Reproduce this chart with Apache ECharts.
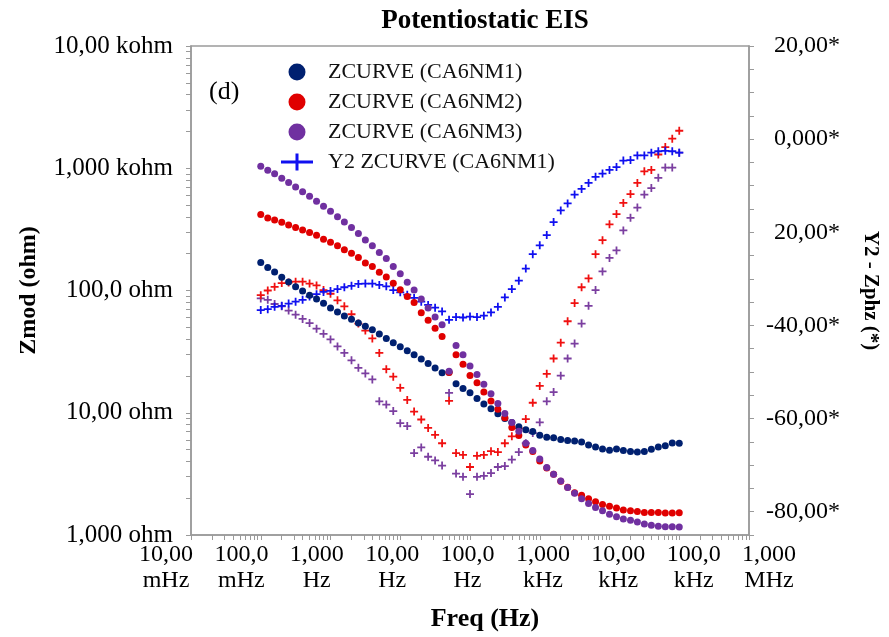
<!DOCTYPE html>
<html>
<head>
<meta charset="utf-8">
<script src="https://cdn.jsdelivr.net/npm/echarts@6/dist/echarts.min.js"></script>
<style>html,body{margin:0;padding:0;background:#fff}#c{width:889px;height:637px}</style>
</head>
<body>
<div id="c"></div>
<script>
// Frequencies (Hz), 10 points per decade, 0.1 Hz .. 100 kHz
const freqHz = [0.1,0.126,0.158,0.2,0.251,0.316,0.398,0.501,0.631,0.794,
  1,1.26,1.58,2,2.51,3.16,3.98,5.01,6.31,7.94,
  10,12.6,15.8,20,25.1,31.6,39.8,50.1,63.1,79.4,
  100,126,158,200,251,316,398,501,631,794,
  1000,1260,1580,2000,2510,3160,3980,5010,6310,7940,
  10000,12600,15800,20000,25100,31600,39800,50100,63100,79400,
  100000];

// |Z| (ohm)
const zmodCA6NM1 = [169.7,154.5,141.5,128.1,117.3,107.4,99.1,91.4,85.3,78.7,
  72.0,66.8,62.0,58.3,54.1,51.1,47.7,44.0,40.5,37.3,
  34.6,32.2,29.8,27.5,25.3,23.2,21.2,21.4,17.3,15.8,
  14.6,13.1,11.8,10.8,9.80,8.98,8.33,7.68,7.26,7.04,
  6.56,6.29,6.25,6.05,5.94,5.87,5.76,5.44,5.24,5.05,
  4.93,5.05,4.90,4.81,4.77,4.81,5.02,5.24,5.38,5.65,
  5.62];
const zmodCA6NM2 = [417.7,391.8,377.4,361.4,343.6,327.3,312.9,298.0,283.2,262.7,
  248.5,232.6,215.0,202.1,186.4,167.5,157.5,140.7,128.8,114.5,
  101.5,89.4,79.8,65.9,57.0,49.0,42.0,21.3,29.8,24.9,
  20.2,17.6,14.8,12.5,10.7,9.10,7.58,6.53,5.44,4.81,
  4.03,3.53,3.14,2.75,2.46,2.22,2.11,1.98,1.87,1.78,
  1.72,1.66,1.60,1.58,1.56,1.53,1.53,1.53,1.51,1.51,
  1.52];
const zmodCA6NM3 = [1039,964,901,830,765,701,643,589,536,488,
  444,402,364,327,292,259,232,205,183,157,
  137,117,101,85.3,72.0,60.8,52.4,21.8,35.5,29.8,
  24.1,20.6,17.1,14.3,11.9,9.86,8.33,7.07,5.62,4.90,
  4.18,3.56,3.14,2.77,2.45,2.20,1.98,1.81,1.68,1.58,
  1.48,1.41,1.35,1.32,1.28,1.23,1.20,1.18,1.17,1.17,
  1.16];

// Phase (degrees)
const zphzCA6NM1 = [-36.7,-36.5,-36.0,-35.8,-35.3,-34.9,-34.5,-33.8,-33.3,-32.8,
  -32.6,-32.2,-31.8,-31.5,-31.1,-31.0,-31.0,-31.3,-31.6,-32.4,
  -32.9,-33.4,-34.1,-34.9,-35.6,-36.2,-37.0,-38.8,-38.2,-38.3,
  -38.1,-38.2,-37.9,-37.2,-36.0,-34.0,-32.2,-30.4,-27.8,-24.7,
  -22.8,-20.6,-17.8,-15.3,-13.8,-11.9,-10.7,-9.4,-8.1,-7.4,
  -6.6,-6.0,-4.6,-4.5,-3.5,-3.5,-2.9,-2.6,-2.5,-2.6,
  -2.9];
const zphzCA6NM2 = [-33.5,-32.5,-31.7,-30.9,-30.8,-30.6,-30.6,-31.0,-31.4,-32.4,
  -33.2,-34.6,-35.9,-37.6,-39.6,-41.1,-42.8,-45.9,-49.4,-51.0,
  -53.4,-56.0,-58.5,-60.2,-62.0,-63.5,-65.3,-56.2,-67.4,-67.8,
  -70.4,-68.0,-67.8,-67.0,-67.2,-65.3,-63.8,-62.1,-60.1,-56.6,
  -53.0,-50.4,-47.1,-43.7,-39.1,-35.2,-31.8,-29.9,-24.7,-21.7,
  -18.3,-16.1,-13.7,-11.8,-9.4,-6.9,-6.6,-3.3,-1.7,0.1,
  1.8];
const zphzCA6NM3 = [-34.2,-34.5,-35.4,-35.9,-36.8,-37.7,-38.6,-39.5,-40.7,-41.8,
  -43.0,-44.5,-45.9,-47.5,-49.1,-50.3,-51.6,-56.3,-57.0,-58.4,
  -61.0,-61.6,-67.4,-66.2,-68.2,-69.0,-70.1,-54.5,-71.8,-72.5,
  -76.2,-72.5,-72.3,-71.7,-70.4,-70.2,-68.8,-67.2,-65.3,-63.1,
  -60.8,-56.3,-54.3,-50.8,-47.1,-43.9,-39.6,-35.8,-32.4,-28.4,
  -25.5,-23.9,-19.6,-16.9,-14.7,-11.9,-10.5,-8.3,-6.1,-6.1,
  -2.9];

// Tick labels
const xTickLabels = ['10,00\nmHz','100,0\nmHz','1,000\nHz','10,00\nHz','100,0\nHz','1,000\nkHz','10,00\nkHz','100,0\nkHz','1,000\nMHz'];
const yLeftLabels = ['1,000 ohm','10,00 ohm','100,0 ohm','1,000 kohm','10,00 kohm'];
const yRightValues = [20, 0, -20, -40, -60, -80];
const yRightLabels = ['20,00*','0,000*','20,00*','-40,00*','-60,00*','-80,00*'];
const xDecades = [0.01,0.1,1,10,100,1000,10000,100000];
const yDecades = [1,10,100,1000];
const minorSteps = [1,2,3,4,5,6,7,8,9];

function logTicks(decades, last) {
  const out = [];
  decades.forEach(d => minorSteps.forEach(s => out.push(d * s)));
  out.push(last);
  return out;
}

const FONT = 'Liberation Serif';
const GRAY = '#9a9a9a';
const pts = arr => freqHz.map((f, i) => [f, arr[i]]);
const PLUS = 'path://M3.5,0h2v9h-2z M0,3.5h9v2h-9z';

const chart = echarts.init(document.getElementById('c'), null, {renderer: 'canvas'});
chart.setOption({
  backgroundColor: '#fff',
  animation: false,
  title: [
    {text: 'Potentiostatic EIS', left: 480, top: 3, textAlign: 'center',
     textStyle: {fontFamily: FONT, fontSize: 27, fontWeight: 'bold', color: '#000'}},
    {text: '(d)', left: 204, top: 74,
     textStyle: {fontFamily: FONT, fontSize: 26, fontWeight: 'normal', color: '#000'}}
  ],
  legend: {
    orient: 'vertical', left: 276, top: 56, itemWidth: 32, itemHeight: 17, itemGap: 8,
    selectedMode: false,
    textStyle: {fontFamily: FONT, fontSize: 22, color: '#111', padding: [0, 0, 0, 10]},
    data: [
      {name: 'ZCURVE (CA6NM1)', icon: 'circle'},
      {name: 'ZCURVE (CA6NM2)', icon: 'circle'},
      {name: 'ZCURVE (CA6NM3)', icon: 'circle'},
      {name: 'Y2 ZCURVE (CA6NM1)', icon: 'path://M0,7h32v3h-32z M14.5,0h3v17h-3z'}
    ]
  },
  grid: [
    {left: 191, right: 139, top: 46, bottom: 100, show: true, borderColor: GRAY, borderWidth: 1.5},
    {left: 166, right: 120, top: 46, bottom: 100, show: false}
  ],
  xAxis: [
    {type: 'log', gridIndex: 0, min: 0.01, max: 1000000, logBase: 10,
     name: 'Freq (Hz)', nameLocation: 'middle', nameGap: 71,
     nameTextStyle: {fontFamily: FONT, fontSize: 26, fontWeight: 'bold', color: '#000', padding: [0, 0, 0, 30]},
     axisLine: {show: true, onZero: false, lineStyle: {color: GRAY, width: 1.5}},
     axisTick: {show: true, inside: false, length: 5, lineStyle: {color: GRAY},
                customValues: logTicks(xDecades, 1000000)},
     axisLabel: {show: false}, splitLine: {show: false}, minorTick: {show: false}},
    {type: 'value', gridIndex: 1, min: 0, max: 8, interval: 1,
     axisLine: {show: false, onZero: false}, axisTick: {show: false}, splitLine: {show: false},
     axisLabel: {show: true, margin: 5, fontFamily: FONT, fontSize: 24, lineHeight: 26, color: '#000',
                 formatter: v => xTickLabels[Math.round(v)] || ''}}
  ],
  yAxis: [
    {type: 'log', gridIndex: 0, min: 1, max: 10000, logBase: 10,
     name: 'Zmod (ohm)', nameLocation: 'middle', nameGap: 150, nameRotate: 90,
     nameTextStyle: {fontFamily: FONT, fontSize: 24, fontWeight: 'bold', color: '#000'},
     axisLine: {show: true, onZero: false, lineStyle: {color: GRAY, width: 1.5}},
     axisTick: {show: true, inside: false, length: 5, lineStyle: {color: GRAY},
                customValues: logTicks(yDecades, 10000)},
     axisLabel: {show: true, margin: 18, fontFamily: FONT, fontSize: 25, color: '#000',
                 customValues: [1, 10, 100, 1000, 10000],
                 formatter: v => yLeftLabels[Math.round(Math.log10(v))]},
     splitLine: {show: false}},
    {type: 'value', gridIndex: 0, position: 'right', min: -85, max: 20, interval: 5,
     name: 'Y2 - Zphz (*)', nameLocation: 'middle', nameGap: 111, nameRotate: -90,
     nameTextStyle: {fontFamily: FONT, fontSize: 21, fontWeight: 'bold', color: '#000'},
     axisLine: {show: true, onZero: false, lineStyle: {color: GRAY, width: 1.5}},
     axisTick: {show: true, inside: false, length: 5, lineStyle: {color: GRAY}},
     axisLabel: {show: true, margin: 91, align: 'right', fontFamily: FONT, fontSize: 24, color: '#000',
                 formatter: v => { const k = yRightValues.indexOf(Math.round(v)); return k >= 0 ? yRightLabels[k] : ''; }},
     splitLine: {show: false}},
    {type: 'value', gridIndex: 1, min: 0, max: 1, show: false}
  ],
  series: [
    {name: 'Y2 ZCURVE (CA6NM3)', type: 'scatter', xAxisIndex: 0, yAxisIndex: 1, symbol: PLUS, symbolSize: 8,
     itemStyle: {color: '#7b3fa0', opacity: 1}, data: pts(zphzCA6NM3)},
    {name: 'Y2 ZCURVE (CA6NM2)', type: 'scatter', xAxisIndex: 0, yAxisIndex: 1, symbol: PLUS, symbolSize: 8,
     itemStyle: {color: '#f01010', opacity: 1}, data: pts(zphzCA6NM2)},
    {name: 'Y2 ZCURVE (CA6NM1)', type: 'scatter', xAxisIndex: 0, yAxisIndex: 1, symbol: PLUS, symbolSize: 8,
     itemStyle: {color: '#1010f0', opacity: 1}, data: pts(zphzCA6NM1)},
    {name: 'ZCURVE (CA6NM1)', type: 'scatter', xAxisIndex: 0, yAxisIndex: 0, symbol: 'circle', symbolSize: 7,
     itemStyle: {color: '#002070', opacity: 1}, data: pts(zmodCA6NM1)},
    {name: 'ZCURVE (CA6NM2)', type: 'scatter', xAxisIndex: 0, yAxisIndex: 0, symbol: 'circle', symbolSize: 7,
     itemStyle: {color: '#e00000', opacity: 1}, data: pts(zmodCA6NM2)},
    {name: 'ZCURVE (CA6NM3)', type: 'scatter', xAxisIndex: 0, yAxisIndex: 0, symbol: 'circle', symbolSize: 7,
     itemStyle: {color: '#7030a0', opacity: 1}, data: pts(zmodCA6NM3)}
  ]
});
</script>
</body>
</html>
